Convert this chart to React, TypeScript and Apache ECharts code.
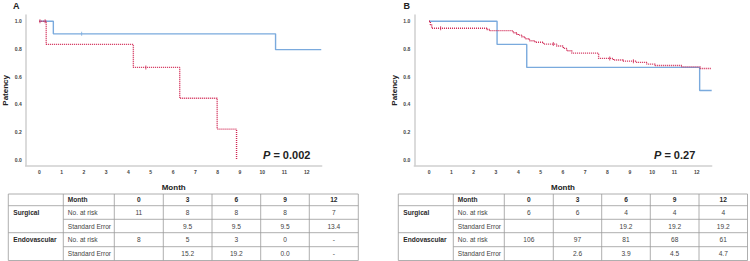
import React, { useEffect, useRef } from "react";
import * as echarts from "echarts";

// Kaplan–Meier curves: [month, patency] after each event (step "end")
const surgicalA: [number, number][] = [
  [0, 1], [0.63, 0.909], [10.6, 0.795], [12.65, 0.795],
];
const endoA: [number, number][] = [
  [0, 1], [0.31, 0.833], [4.22, 0.667], [6.3, 0.444], [7.98, 0.222], [8.85, 0],
];
const surgicalACensor: [number, number][] = [[1.9, 0.909]];
const endoACensor: [number, number][] = [[0.03, 1], [0.26, 1], [4.78, 0.667]];

const surgicalB: [number, number][] = [
  [0, 1], [3.05, 0.833], [4.38, 0.667], [12.13, 0.5], [12.67, 0.5],
];
const endoB: [number, number][] = [
  [0, 1], [0.06, 0.975], [0.12, 0.949], [2.59, 0.94], [2.73, 0.932], [3.77, 0.917],
  [3.92, 0.908], [4.0, 0.9], [4.15, 0.888], [4.3, 0.874], [4.5, 0.859], [4.75, 0.848],
  [5.13, 0.835], [5.72, 0.821], [6.02, 0.804], [6.17, 0.787], [6.4, 0.77], [7.6, 0.732],
  [8.26, 0.72], [8.7, 0.712], [9.3, 0.703], [9.76, 0.691], [10.13, 0.681], [11.33, 0.671],
  [12.15, 0.659], [12.67, 0.659],
];
const endoBCensor: [number, number][] = [
  [0.52, 0.949], [5.57, 0.835], [8.1, 0.732], [9.16, 0.712],
];

const xTicks = [0, 1, 2, 3, 4, 5, 6, 7, 8, 9, 10, 11, 12];
const yTicks = [0, 0.2, 0.4, 0.6, 0.8, 1.0];

const pValueA = "0.002";
const pValueB = "0.27";

// Number-at-risk tables
const tableMonths = ["0", "3", "6", "9", "12"];
const groupNames = ["Surgical", "Endovascular"];
const rowNames = ["No. at risk", "Standard Error"];
const surgRiskA = ["11", "8", "8", "8", "7"];
const surgSeA = ["", "9.5", "9.5", "9.5", "13.4"];
const endoRiskA = ["8", "5", "3", "0", "-"];
const endoSeA = ["", "15.2", "19.2", "0.0", "-"];
const surgRiskB = ["6", "6", "4", "4", "4"];
const surgSeB = ["", "", "19.2", "19.2", "19.2"];
const endoRiskB = ["106", "97", "81", "68", "61"];
const endoSeB = ["", "2.6", "3.9", "4.5", "4.7"];

const BLUE = "#7aaadd";
const RED = "#d02552";
const AXIS = "#cfcfcf";
const TXT = "#333";
const FONT = "Liberation Sans, Arial, sans-serif";

function buildTable(cols: number[], rows: number[], body: string[][]) {
  const els: any[] = [];
  const left = cols[0];
  const right = cols[cols.length - 1];
  const line = (x1: number, y1: number, x2: number, y2: number) =>
    els.push({
      type: "line",
      shape: { x1, y1, x2, y2 },
      style: { stroke: "#9a9a9a", lineWidth: 0.8 },
      silent: true,
    });
  // outer + horizontal rules (rows 2 and 4 are split only right of the group column)
  rows.forEach((y, i) => {
    const partial = i === 2 || i === 4;
    line(partial ? cols[1] : left, y, right, y);
  });
  cols.forEach((x) => line(x, rows[0], x, rows[rows.length - 1]));
  const text = (t: string, x: number, y: number, align: string, bold: boolean) =>
    els.push({
      type: "text",
      x,
      y,
      silent: true,
      style: {
        text: t,
        fill: bold ? "#2a2a2a" : "#444",
        fontSize: 6.6,
        fontFamily: FONT,
        fontWeight: bold ? "bold" : "normal",
        align,
        verticalAlign: "middle",
        textAlign: align,
        textVerticalAlign: "middle",
      },
    });
  const mid = (i: number) => (rows[i] + rows[i + 1]) / 2;
  // header
  text("Month", cols[1] + 4.5, mid(0), "left", true);
  tableMonths.forEach((m, j) => text(m, (cols[j + 2] + cols[j + 3]) / 2, mid(0), "center", true));
  groupNames.forEach((g, gi) => text(g, left + 5, mid(1 + gi * 2), "left", true));
  body.forEach((vals, r) => {
    text(rowNames[r % 2], cols[1] + 4.5, mid(r + 1), "left", false);
    vals.forEach((v, j) => {
      if (v) text(v, (cols[j + 2] + cols[j + 3]) / 2, mid(r + 1), "center", false);
    });
  });
  return els;
}

function makeAxes(idx: number, xMin: number, xMax: number) {
  const xAxis = {
    type: "value",
    gridIndex: idx,
    min: xMin,
    max: xMax,
    name: "Month",
    nameLocation: "middle",
    nameGap: 18,
    nameTextStyle: { fontSize: 8, fontWeight: "bold", color: "#222", fontFamily: FONT },
    axisLine: { show: true, onZero: false, lineStyle: { color: AXIS, width: 1.5 } },
    axisTick: { show: false },
    splitLine: { show: false },
    axisLabel: {
      customValues: xTicks,
      fontSize: 5,
      fontWeight: "bold",
      color: "#444",
      margin: 4,
      fontFamily: FONT,
    },
  };
  const yAxis = {
    type: "value",
    gridIndex: idx,
    min: -0.042,
    max: 1.045,
    name: "Patency",
    nameLocation: "middle",
    nameGap: 16,
    nameRotate: 90,
    nameTextStyle: { fontSize: 8, fontWeight: "bold", color: "#222", fontFamily: FONT },
    axisLine: { show: true, onZero: false, lineStyle: { color: AXIS, width: 1.5 } },
    axisTick: { show: false },
    splitLine: { show: false },
    axisLabel: {
      customValues: yTicks,
      formatter: (v: number) => v.toFixed(1),
      fontSize: 5,
      fontWeight: "bold",
      color: "#444",
      margin: 4,
      fontFamily: FONT,
    },
  };
  return { xAxis, yAxis };
}

function kmLine(data: [number, number][], idx: number, color: string, dotted: boolean) {
  return {
    type: "line",
    xAxisIndex: idx,
    yAxisIndex: idx,
    step: "end",
    data,
    symbol: "none",
    lineStyle: dotted
      ? { color, width: 1.4, type: [1, 1] }
      : { color, width: 1.4 },
    z: dotted ? 3 : 2,
  };
}

function censor(data: [number, number][], idx: number, color: string) {
  return {
    type: "scatter",
    xAxisIndex: idx,
    yAxisIndex: idx,
    data,
    symbol: "rect",
    symbolSize: [1, 4],
    itemStyle: { color },
    z: 4,
  };
}

function pText(p: string, x: number, y: number) {
  return {
    type: "text",
    x,
    y,
    silent: true,
    style: {
      text: "{p|P} = " + p,
      fill: "#222",
      fontSize: 11,
      fontWeight: "bold",
      fontFamily: FONT,
      verticalAlign: "middle",
      textVerticalAlign: "middle",
      rich: {
        p: { fontStyle: "italic", fontWeight: "bold", fontSize: 11, fontFamily: FONT, fill: "#222" },
      },
    },
  };
}

export default function App() {
  const ref = useRef<HTMLDivElement>(null);
  useEffect(() => {
    if (!ref.current) return;
    const chart = echarts.init(ref.current, undefined, { renderer: "svg" });
    const a = makeAxes(0, -0.61, 12.67);
    const b = makeAxes(1, -0.66, 12.67);
    const tableA = buildTable(
      [8.3, 63.3, 114.3, 163.3, 212, 260.7, 309.3, 358.3],
      [194, 205.7, 219.3, 232.7, 246.7, 260.5],
      [surgRiskA, surgSeA, endoRiskA, endoSeA]
    );
    const tableB = buildTable(
      [398.3, 453.3, 504.3, 553.3, 601.7, 650.3, 699, 747.5],
      [194, 205.7, 219.3, 232.7, 246.7, 260.5],
      [surgRiskB, surgSeB, endoRiskB, endoSeB]
    );
    const panelLabel = (t: string, x: number) => ({
      type: "text",
      x,
      y: 5.5,
      silent: true,
      style: {
        text: t, fontSize: 9, fontWeight: "bold", fill: "#222", fontFamily: FONT,
        align: "center", verticalAlign: "middle", textAlign: "center", textVerticalAlign: "middle",
      },
    });
    chart.setOption({
      animation: false,
      backgroundColor: "#ffffff",
      grid: [
        { left: 25.7, top: 15, width: 296, height: 150.7 },
        { left: 414.3, top: 15, width: 297.4, height: 150.7 },
      ],
      xAxis: [a.xAxis, b.xAxis],
      yAxis: [a.yAxis, b.yAxis],
      series: [
        kmLine(surgicalA, 0, BLUE, false),
        kmLine(endoA, 0, RED, true),
        censor(surgicalACensor, 0, BLUE),
        censor(endoACensor, 0, RED),
        kmLine(surgicalB, 1, BLUE, false),
        kmLine(endoB, 1, RED, true),
        censor(endoBCensor, 1, RED),
      ],
      graphic: [
        panelLabel("A", 16.3),
        panelLabel("B", 406.7),
        pText(pValueA, 263, 155),
        pText(pValueB, 654, 155),
        ...tableA,
        ...tableB,
      ],
    });
    return () => chart.dispose();
  }, []);
  return (
    <div
      ref={ref}
      style={{ position: "absolute", left: 0, top: 0, width: 750, height: 261, background: "#fff" }}
    />
  );
}
